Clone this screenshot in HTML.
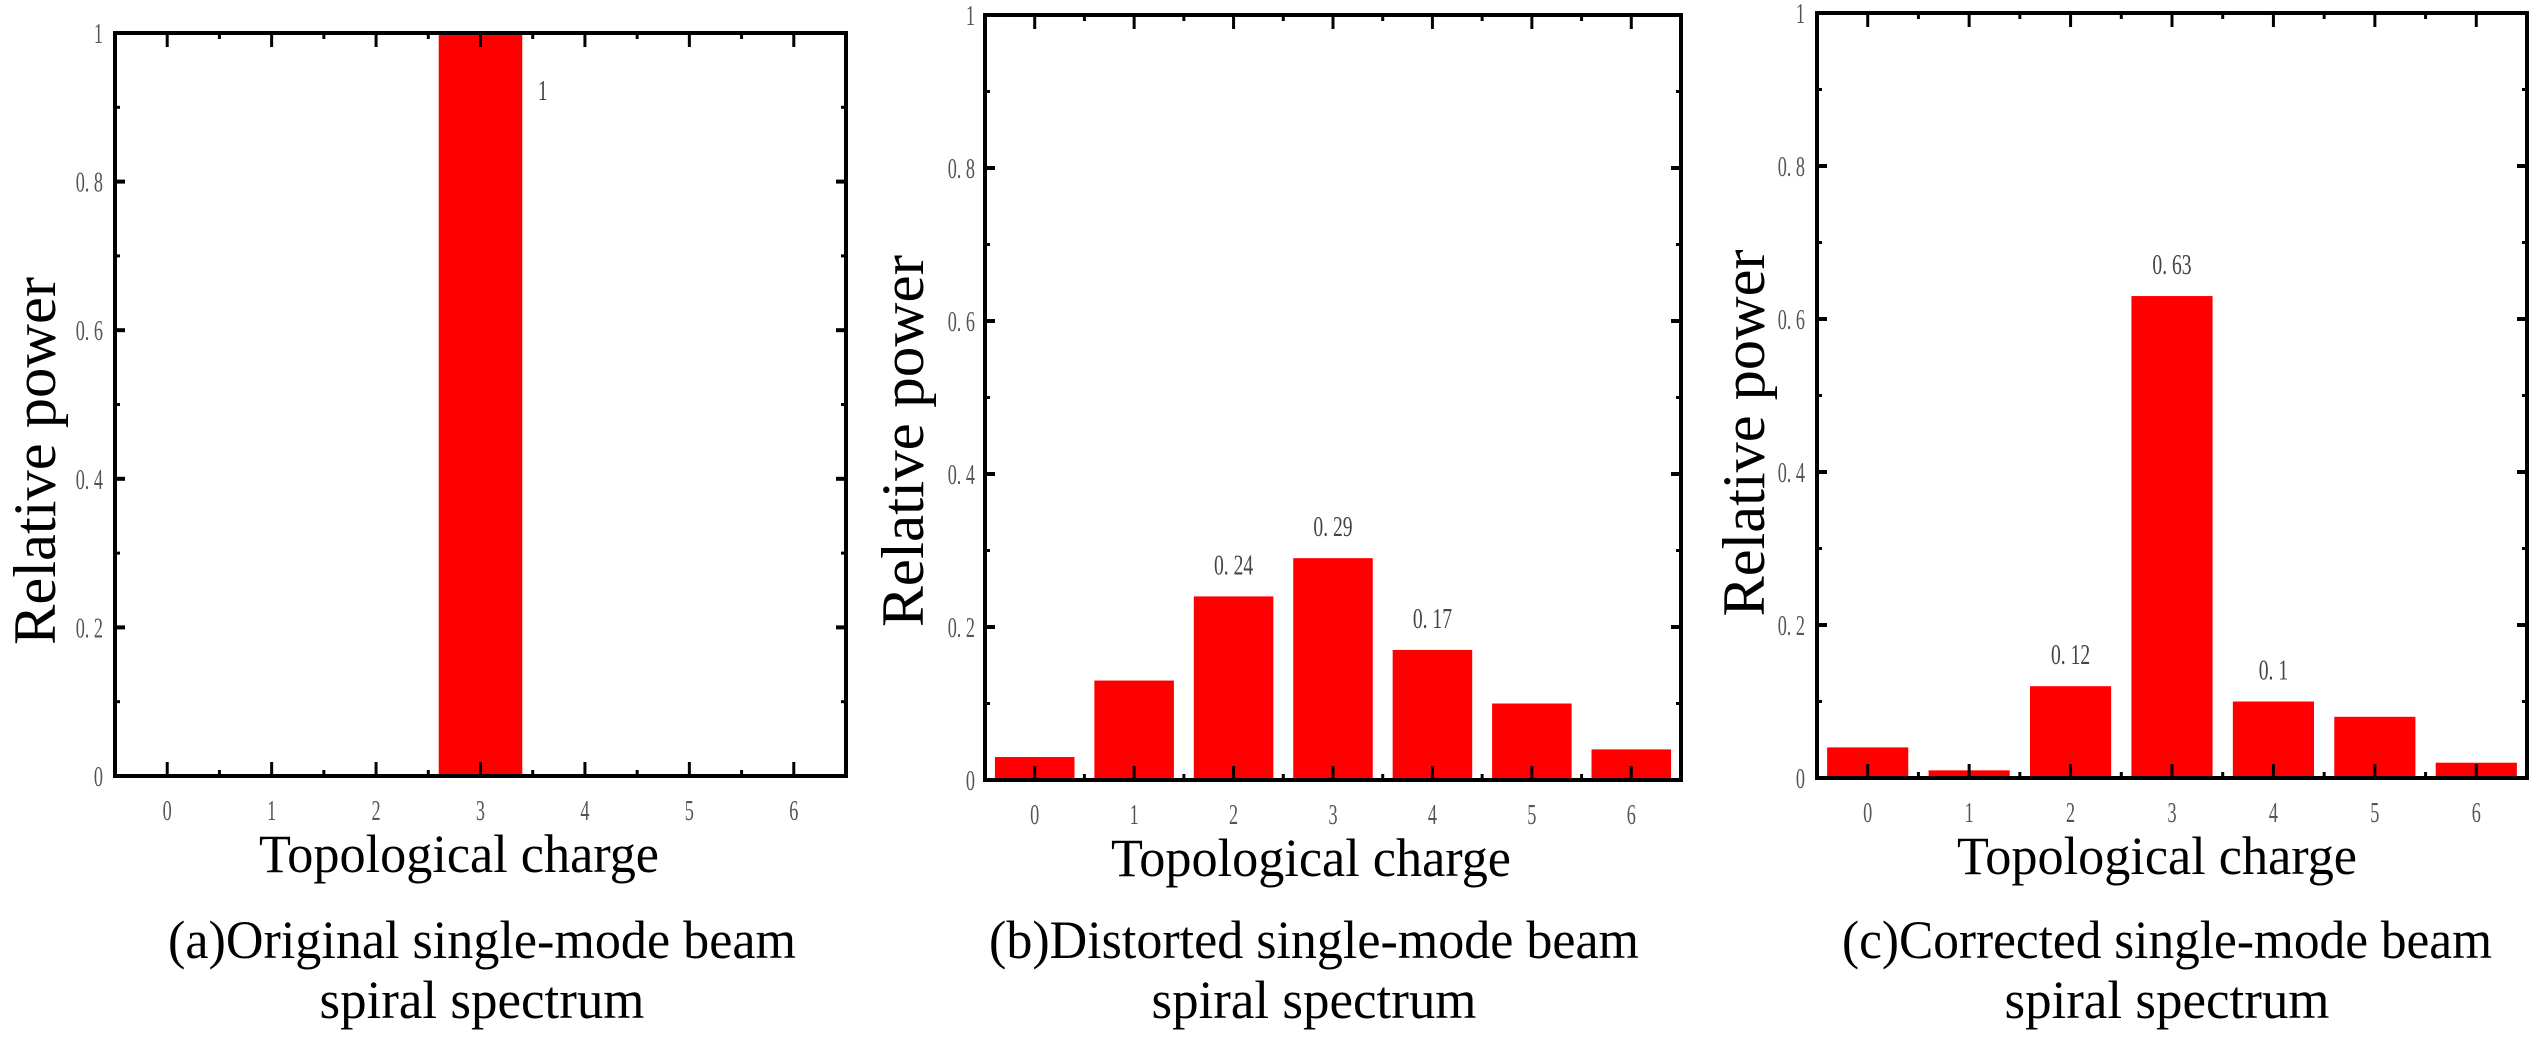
<!DOCTYPE html>
<html><head><meta charset="utf-8"><style>
html,body{margin:0;padding:0;background:#fff;}
svg{display:block;}
.tk{font-family:"Liberation Serif",serif;fill:#555;font-size:28px;}
.yt{font-family:"Liberation Serif",serif;fill:#000;font-size:60px;}
.xt{font-family:"Liberation Serif",serif;fill:#000;font-size:54px;}
.vl{font-family:"Liberation Serif",serif;fill:#444;font-size:28px;}
</style></head><body>
<svg id="fig" width="2547" height="1045" viewBox="0 0 2547 1045" xmlns="http://www.w3.org/2000/svg"></svg>
<script>
const categories = [0, 1, 2, 3, 4, 5, 6];
const seriesA = [0, 0, 0, 1, 0, 0, 0];
const seriesB = [0.03, 0.13, 0.24, 0.29, 0.17, 0.10, 0.04];
const seriesC = [0.04, 0.01, 0.12, 0.63, 0.10, 0.08, 0.02];
const labelsA = [null, null, null, "1", null, null, null];
const labelsB = [null, null, "0.24", "0.29", "0.17", null, null];
const labelsC = [null, null, "0.12", "0.63", "0.1", null, null];
const yTicks = [0, 0.2, 0.4, 0.6, 0.8, 1];
const yTickLabels = ["0", "0.2", "0.4", "0.6", "0.8", "1"];
const captionsLine1 = ["(a)Original single-mode beam", "(b)Distorted single-mode beam", "(c)Corrected single-mode beam"];
const captionsLine2 = ["spiral spectrum", "spiral spectrum", "spiral spectrum"];

const NS = "http://www.w3.org/2000/svg";
const svg = document.getElementById('fig');
function mk(tag, attrs, parent) {
  const e = document.createElementNS(NS, tag);
  for (const k in attrs) e.setAttribute(k, attrs[k]);
  (parent || svg).appendChild(e);
  return e;
}
const panels = [
  {key:'a', vals:seriesA, labels:labelsA, L:115, R:846, T:33, B:776, ytX:55, ytY:461, ytLen:368, ylabR:103, cx:459, capX:482, valOffset:'side'},
  {key:'b', vals:seriesB, labels:labelsB, L:985, R:1681, T:15, B:780, ytX:923, ytY:441, ytLen:372, ylabR:975, cx:1311, capX:1314},
  {key:'c', vals:seriesC, labels:labelsC, L:1817, R:2527, T:13, B:778, ytX:1764, ytY:433, ytLen:367, ylabR:1805, cx:2157, capX:2167}
];
panels.forEach(p => {
  const g = mk('g', {});
  
  
  const xs = v => p.L + (v + 0.5) / 7 * (p.R - p.L);
  const ys = v => p.B - v * (p.B - p.T);
  p.vals.forEach((v, i) => {
    if (v <= 0) return;
    const x0 = xs(categories[i] - 0.4), x1 = xs(categories[i] + 0.4);
    const r = mk('rect', {x:x0, y:ys(v), width:x1 - x0, height:ys(0) - ys(v), fill:'#ff0000'}, g);
    
    
  });
  p.labels.forEach((lab, i) => {
    if (!lab) return;
    let tx, ty, anchor = 'middle';
    if (p.valOffset === 'side') { tx = xs(categories[i] + 0.55); ty = ys(p.vals[i] * 0.91); anchor = 'start'; }
    else { tx = xs(categories[i]); ty = ys(p.vals[i]) - 22; }
    const t = mk('text', {x:tx, y:ty, 'text-anchor':anchor, class:'vl', transform:`translate(${tx},0) scale(0.7,1) translate(${-tx},0)`}, g);
    t.textContent = lab.replace('.', '. ');
    
    
  });
  const fr = mk('rect', {x:p.L, y:p.T, width:p.R - p.L, height:p.B - p.T, fill:'none', stroke:'#000', 'stroke-width':4}, g);
  
  
  categories.forEach(c => {
    const x = xs(c);
    mk('line', {x1:x, y1:p.B, x2:x, y2:p.B - 14, stroke:'#000', 'stroke-width':3}, g);
    mk('line', {x1:x, y1:p.T, x2:x, y2:p.T + 14, stroke:'#000', 'stroke-width':3}, g);
    const xm = xs(c + 0.5);
    if (c < 6) {
      mk('line', {x1:xm, y1:p.B, x2:xm, y2:p.B - 6, stroke:'#000', 'stroke-width':3}, g);
      mk('line', {x1:xm, y1:p.T, x2:xm, y2:p.T + 6, stroke:'#000', 'stroke-width':3}, g);
    }
    const t = mk('text', {x:x, y:p.B + 44, 'text-anchor':'middle', class:'tk', transform:`translate(${x},0) scale(0.65,1) translate(${-x},0)`}, g);
    t.textContent = String(c);
    
    
  });
  yTicks.forEach((v, i) => {
    const y = ys(v);
    mk('line', {x1:p.L, y1:y, x2:p.L + 10, y2:y, stroke:'#000', 'stroke-width':4}, g);
    mk('line', {x1:p.R, y1:y, x2:p.R - 10, y2:y, stroke:'#000', 'stroke-width':4}, g);
    if (i < yTicks.length - 1) {
      const ym = ys(v + 0.1);
      mk('line', {x1:p.L, y1:ym, x2:p.L + 5, y2:ym, stroke:'#000', 'stroke-width':3}, g);
      mk('line', {x1:p.R, y1:ym, x2:p.R - 5, y2:ym, stroke:'#000', 'stroke-width':3}, g);
    }
    const t = mk('text', {x:p.ylabR, y:y + 10, 'text-anchor':'end', class:'tk', transform:`translate(${p.ylabR},0) scale(0.65,1) translate(${-p.ylabR},0)`}, g);
    t.textContent = yTickLabels[i].replace('.', '. ');
    
    
  });
  const yt = mk('text', {x:0, y:0, 'text-anchor':'middle', class:'yt', textLength:p.ytLen, lengthAdjust:'spacingAndGlyphs', transform:`translate(${p.ytX},${p.ytY}) rotate(-90)`}, g);
  yt.textContent = 'Relative power';
  
  
  const xt = mk('text', {x:p.cx, y:p.B + 96, 'text-anchor':'middle', class:'xt', textLength:400, lengthAdjust:'spacingAndGlyphs'}, g);
  xt.textContent = 'Topological charge';
  
  
  const idx = panels.indexOf(p);
  const c1 = mk('text', {x:p.capX, y:958, 'text-anchor':'middle', class:'xt', textLength:p.key === 'a' ? 628 : 650, lengthAdjust:'spacingAndGlyphs'}, g);
  c1.textContent = captionsLine1[idx];
  
  
  const c2 = mk('text', {x:p.capX, y:1018, 'text-anchor':'middle', class:'xt', textLength:325, lengthAdjust:'spacingAndGlyphs'}, g);
  c2.textContent = captionsLine2[idx];
  
  
});
</script>
</body></html>
